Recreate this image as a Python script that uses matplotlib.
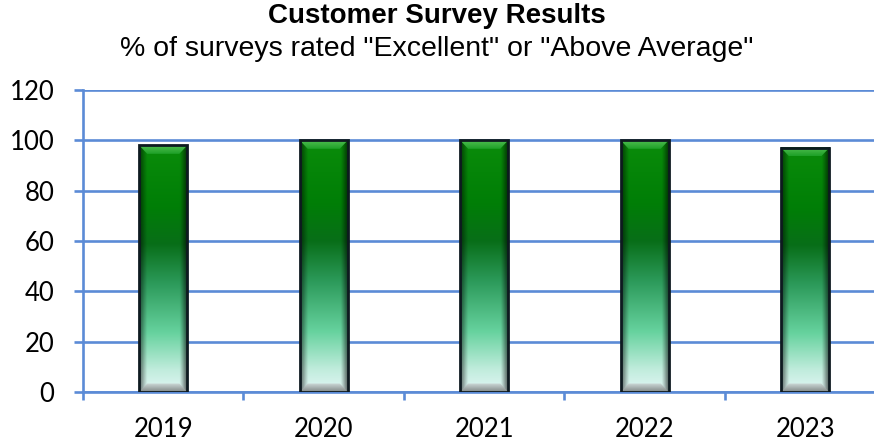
import numpy as np
import matplotlib
matplotlib.use("Agg")
import matplotlib.pyplot as plt
from matplotlib.patches import Polygon

# survey results per year
years = ["2019", "2020", "2021", "2022", "2023"]
pct_rated_good = [98, 100, 100, 100, 97]
y_ticks = [0, 20, 40, 60, 80, 100, 120]

GRID_BLUE = "#5b8bd6"
EDGE = "#0e1a20"


def lerp_stops(t, stops):
    """Piecewise-linear colour ramp; stops = [(pos, (r, g, b)), ...]."""
    pos = np.array([s[0] for s in stops])
    cols = np.array([s[1] for s in stops], dtype=float) / 255.0
    return np.stack([np.interp(t, pos, cols[:, k]) for k in range(3)], axis=-1)


# body colour, top of the bar -> bottom
body_stops = [
    (0.00, (10, 140, 10)),
    (0.25, (0, 126, 6)),
    (0.40, (8, 110, 24)),
    (0.56, (44, 154, 90)),
    (0.76, (102, 210, 158)),
    (0.91, (192, 236, 220)),
    (1.00, (226, 246, 245)),
]
top_bevel_stops = [(0.0, (80, 190, 80)), (1.0, (30, 160, 40))]
bottom_bevel_stops = [(0.0, (205, 218, 216)), (1.0, (130, 136, 136))]


def body_image(nh=300, nw=60, side=0.16):
    t = np.linspace(0, 1, nh)
    col = lerp_stops(t, body_stops)[:, None, :]
    u = np.linspace(0, 1, nw)
    d = np.minimum(u, 1 - u) / side
    shade = np.clip(0.45 + 0.55 * d, 0.45, 1.0)
    shade = np.where(u < 0.5, shade, np.clip(0.35 + 0.65 * d, 0.35, 1.0))
    return np.clip(col * shade[None, :, None], 0, 1)


def ramp_image(stops, nh=40):
    t = np.linspace(0, 1, nh)
    return lerp_stops(t, stops)[:, None, :]


fig = plt.figure(figsize=(8.74, 4.45), dpi=100)
ax = fig.add_axes([0.095, 0.119, 0.918, 0.679])

x = np.arange(len(years))
bars = ax.bar(x, pct_rated_good, width=0.3, facecolor="none",
              edgecolor=EDGE, linewidth=2.0, zorder=5)

bx, by = 0.05, 3.4  # bevel depth (category units, data units)
for bar in bars:
    x0, w, h = bar.get_x(), bar.get_width(), bar.get_height()
    ax.imshow(body_image(), extent=[x0, x0 + w, 0, h], aspect="auto",
              interpolation="bilinear", zorder=2)
    top = Polygon([(x0, h), (x0 + w, h), (x0 + w - bx, h - by), (x0 + bx, h - by)],
                  closed=True, facecolor="none", edgecolor="none")
    ax.add_patch(top)
    im = ax.imshow(ramp_image(top_bevel_stops), extent=[x0, x0 + w, h - by, h],
                   aspect="auto", interpolation="bilinear", zorder=3)
    im.set_clip_path(top)
    bot = Polygon([(x0, 0), (x0 + w, 0), (x0 + w - bx, by), (x0 + bx, by)],
                  closed=True, facecolor="none", edgecolor="none")
    ax.add_patch(bot)
    im = ax.imshow(ramp_image(bottom_bevel_stops), extent=[x0, x0 + w, 0, by],
                   aspect="auto", interpolation="bilinear", zorder=3)
    im.set_clip_path(bot)

ax.set_xlim(-0.5, len(years) - 0.5)
ax.set_ylim(0, 120)
ax.set_yticks(y_ticks)
ax.set_xticks(x)
ax.set_xticklabels(years)
ax.set_xticks(np.arange(len(years) + 1) - 0.5, minor=True)

ax.grid(axis="y", color=GRID_BLUE, linewidth=1.9)
ax.set_axisbelow(True)
for side in ["top", "right"]:
    ax.spines[side].set_visible(False)
for side in ["left", "bottom"]:
    ax.spines[side].set_color(GRID_BLUE)
    ax.spines[side].set_linewidth(1.9)

ax.tick_params(axis="y", length=6.5, width=1.9, color=GRID_BLUE, pad=14,
               labelsize=18.5, labelfontfamily="Lato")
ax.tick_params(axis="x", which="major", length=0, pad=18, labelsize=18.5,
               labelfontfamily="Lato")
ax.tick_params(axis="x", which="minor", length=6, width=1.9, color=GRID_BLUE)

fig.text(0.5, 0.948, "Customer Survey Results", ha="center", va="baseline",
         family="Liberation Sans", weight="bold", fontsize=20)
fig.text(0.5, 0.874, '% of surveys rated "Excellent" or "Above Average"',
         ha="center", va="baseline", family="Liberation Sans", fontsize=20.5)

fig.savefig("out.png", dpi=100)
